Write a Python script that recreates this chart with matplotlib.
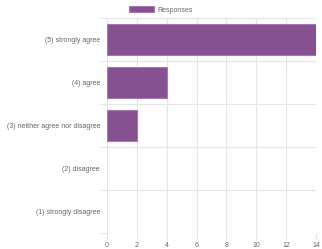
import matplotlib.pyplot as plt
from matplotlib.ticker import FixedLocator

# Survey responses
categories = ["(5) strongly agree", "(4) agree", "(3) neither agree nor disagree",
              "(2) disagree", "(1) strongly disagree"]
responses = [14, 4, 2, 0, 0]
x_ticks = [0, 2, 4, 6, 8, 10, 12, 14]

plt.rcParams["font.family"] = ["Liberation Sans", "DejaVu Sans"]
W, H = 322, 249
fig = plt.figure(figsize=(W / 100, H / 100), dpi=100)
ax = fig.add_axes([107 / W, 1 - 233 / H, (316 - 107) / W, (233 - 18) / H])

grid_c = "#e6e6e6"
text_c = "#666666"
fs = 5.0

pos = list(range(len(categories)))
widths = [0.8 if v > 0 else 0 for v in responses]
ax.barh(pos, responses, height=0.72, color="#855190", edgecolor="#a57aae",
        linewidth=widths, label="Responses", zorder=3)

ax.set_ylim(len(categories) - 0.5, -0.5)
ax.set_xlim(0, 14)
ax.set_yticks(pos)
ax.set_yticklabels(categories)
ax.yaxis.set_minor_locator(FixedLocator([p - 0.5 for p in pos] + [len(pos) - 0.5]))
ax.set_xticks(x_ticks)

ax.tick_params(axis="y", which="major", length=0, pad=5, labelsize=fs, labelcolor=text_c)
ax.tick_params(axis="y", which="minor", length=5, color=grid_c, width=0.8)
ax.tick_params(axis="x", which="major", length=5, color=grid_c, width=0.8, pad=1.5,
               labelsize=fs, labelcolor=text_c)
ax.grid(True, axis="x", which="major", color=grid_c, linewidth=0.8, zorder=0)
ax.grid(True, axis="y", which="minor", color=grid_c, linewidth=0.8, zorder=0)
for s in ax.spines.values():
    s.set_visible(False)

fig.legend(loc="upper center", bbox_to_anchor=(0.5, 0.995), frameon=False, fontsize=fs,
           labelcolor=text_c, handlelength=3.6, handleheight=1.0, handletextpad=0.6,
           borderaxespad=0.3)

fig.savefig("out.png", dpi=100)
